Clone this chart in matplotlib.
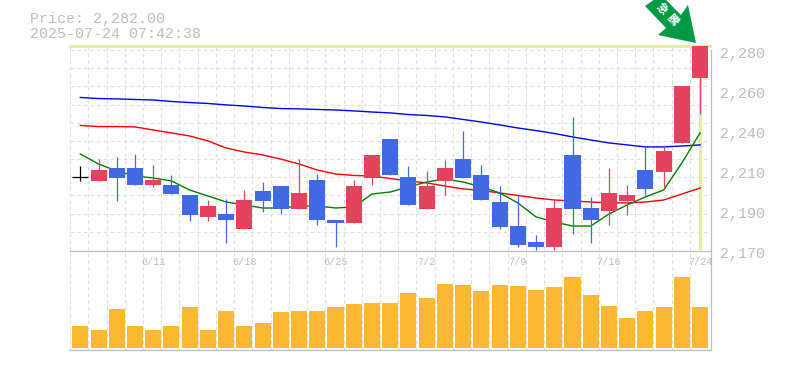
import matplotlib
matplotlib.use("Agg")
import matplotlib.pyplot as plt
from matplotlib.patches import Polygon

# ---- data ----
opens = [2210, 2208, 2215, 2215, 2206, 2206, 2200, 2188, 2190, 2181.5, 2202.5, 2205, 2192.5, 2208.5, 2186.5,
         2185, 2209.5, 2231, 2210, 2192.5, 2208, 2220, 2211, 2196.5, 2183, 2174.5, 2171.5, 2222, 2193,
         2191.5, 2197, 2214, 2213, 2229, 2264.5]
closes = [2210, 2214, 2209.6, 2206, 2208.5, 2201, 2189, 2194, 2186.5, 2197.5, 2197, 2192.5, 2201.5, 2186.5, 2185,
          2205, 2222, 2211, 2195, 2205, 2215, 2209.5, 2197.5, 2182.5, 2173, 2171.5, 2193, 2192.5, 2186.5,
          2201.5, 2200, 2203.5, 2224.5, 2260, 2282]
highs = [2216, 2220, 2221, 2223, 2217, 2211, 2200, 2197.5, 2198, 2203, 2207.5, 2205, 2220, 2212, 2186.5,
         2208.5, 2222, 2231, 2216, 2213.5, 2219.5, 2235.5, 2217, 2205, 2200, 2178, 2198, 2243, 2199,
         2215, 2206, 2226.5, 2227, 2260, 2282]
lows = [2208, 2208, 2197, 2206, 2204.6, 2201, 2186, 2186, 2174, 2181.5, 2191, 2190, 2192.5, 2184, 2171.5,
        2185, 2206, 2211, 2195, 2192.5, 2200, 2209.5, 2197.5, 2181.5, 2171.5, 2170, 2170, 2179, 2174,
        2184, 2189, 2200, 2204.5, 2229, 2245]
ma_long = [2253.9, 2253.3, 2253.1, 2252.8, 2252.5, 2251.7, 2251.1, 2250.6, 2249.8, 2249.2, 2248.4, 2247.8,
           2247.6, 2247.3, 2247, 2246.5, 2245.9, 2245.4, 2244.5, 2244, 2243.2, 2241.8, 2240.4, 2238.8, 2237.1,
           2235.7, 2234.1, 2232.2, 2230.5, 2228.9, 2227.8, 2226.7, 2226.7, 2227.2, 2227.8]
ma_mid = [2238.5, 2237.9, 2237.9, 2237.7, 2236, 2234.4, 2232.7, 2230, 2226.1, 2223.9, 2222.3, 2220, 2217.3,
          2214, 2211.8, 2211, 2210.7, 2209.3, 2208, 2206.9, 2205.2, 2203.6, 2202.7, 2201.4, 2200, 2198.6,
          2197.5, 2197, 2196.4, 2195.9, 2195.9, 2196.4, 2197.5, 2200.8, 2204.1]
ma_short = [2222.8, 2217.3, 2213.5, 2210.7, 2209.6, 2208, 2203, 2199.7, 2196.4, 2194.8, 2193.1, 2193.1, 2194.2,
            2194.2, 2193.1, 2193.7, 2200.8, 2201.9, 2204.7, 2207.4, 2209.1, 2207.4, 2204.7, 2201.4, 2195.9,
            2188.2, 2185.4, 2183.2, 2183.2, 2189.8, 2194.8, 2199.2, 2203, 2217.9, 2234.4]
volumes = [22, 18, 39, 22, 18, 22, 41, 18, 37, 22, 25, 36, 37, 37, 41, 44, 45, 45, 55, 50, 64, 63, 57, 63, 62,
           58, 61, 71, 53, 42, 30, 37, 41, 71, 41]
price_ticks = [2170, 2192, 2214, 2236, 2258, 2280]
price_tick_labels = ["2,170", "2,190", "2,210", "2,240", "2,260", "2,280"]
date_positions = [4, 9, 14, 19, 24, 29, 34]
date_labels = ["6/11", "6/18", "6/25", "7/2", "7/9", "7/16", "7/24"]
title_lines = ["Price: 2,282.00", "2025-07-24 07:42:38"]
badge_chars = ["急", "騰"]
last_price = 2282

# ---- style ----
W, H = 785, 370
UP, DOWN = "#e5425f", "#4169e1"
GRID, AXIS, TEXT = "#dddddd", "#bdbdbd", "#bdbdbd"
LIME = "#e0f0a0"
MONO = "Liberation Mono"
DASH = (0, (3, 3))

def rect(l, t, r, b):
    return [l / W, 1 - b / H, (r - l) / W, (b - t) / H]

fig = plt.figure(figsize=(W / 100, H / 100), dpi=100, facecolor="white")
ax = fig.add_axes(rect(70, 46, 710, 250))
vax = fig.add_axes(rect(70, 250, 710, 350), sharex=ax)

n = len(closes)
xs = list(range(n))
# pixel x = 80.3 + 18.23 i
ax.set_xlim((70 - 80.3) / 18.23, (710 - 80.3) / 18.23)
ax.set_ylim(2170, 2170 + 204 / (200 / 110))
vax.set_ylim(-2, 98)

for a in (ax, vax):
    a.set_facecolor("white")
    for s in a.spines.values():
        s.set_visible(False)
    a.tick_params(left=False, bottom=False, labelleft=False, labelbottom=False)
    for i in range(n):
        a.axvline(i - 0.56, color=GRID, lw=0.8, ls=DASH, zorder=0, clip_on=False)

ax.set_zorder(2)
ax.patch.set_visible(True)
for k in range(0, 12):
    ax.axhline(2170 + 10 * k, color=GRID, lw=0.8, ls=DASH, zorder=0)

# current-price crosshair
ax.axhline(last_price, color=LIME, lw=2.2, zorder=1, clip_on=False)
ax.axvline(n - 1, color=LIME, lw=2.2, zorder=1)

ax.plot(xs, ma_long, color="#0000ff", lw=1, zorder=2)
ax.plot(xs, ma_mid, color="#ff0000", lw=1, zorder=2)
ax.plot(xs, ma_short, color="#008000", lw=1, zorder=2)

for i in xs:
    o, c, h, l = opens[i], closes[i], highs[i], lows[i]
    if o == c:
        ax.plot([i, i], [l, h], color="black", lw=0.9, zorder=3, solid_capstyle="butt")
        ax.plot([i - 0.44, i + 0.44], [c, c], color="black", lw=0.9, zorder=3, solid_capstyle="butt")
        continue
    col = UP if c > o else DOWN
    ax.plot([i, i], [l, h], color=col, lw=0.9, zorder=3, solid_capstyle="butt", clip_on=False)
    ax.bar(i, abs(c - o), bottom=min(o, c), width=0.88, color=col, linewidth=0, zorder=4)

vax.bar(xs, volumes, width=0.88, color="#ffb833", linewidth=0, zorder=3)

# solid frame lines
fig.add_artist(plt.Line2D([70 / W, 710 / W], [1 - 250.5 / H] * 2, color=AXIS, lw=0.9))
fig.add_artist(plt.Line2D([70 / W, 710 / W], [1 - 349.5 / H] * 2, color=AXIS, lw=0.9))
fig.add_artist(plt.Line2D([710.5 / W, 710.5 / W], [1 - 50 / H, 1 - 350 / H], color=AXIS, lw=0.9))

# price labels
for p, lab in zip(price_ticks, price_tick_labels):
    ax.annotate(lab, xy=(1, p), xycoords=("axes fraction", "data"), xytext=(10, -4), textcoords="offset pixels",
                ha="left", va="center", family=MONO, fontsize=10.8, color=TEXT, annotation_clip=False)

# date labels
for i, lab in zip(date_positions, date_labels):
    vax.annotate(lab, xy=(i, 1), xycoords=("data", "axes fraction"), xytext=(0, -12), textcoords="offset pixels",
                 ha="center", va="center", family=MONO, fontsize=7.4, color=TEXT, annotation_clip=False, zorder=5)

for y, line in zip((19, 33.5), title_lines):
    fig.text(30 / W, 1 - y / H, line, family=MONO, fontsize=10.8, color=TEXT, ha="left", va="center")

# badge arrow (pixel coordinates)
pts = [(645, 6), (661, -5), (681, 15), (688, 5), (696, 43), (658, 35), (666, 28)]
fig.add_artist(Polygon([(x / W, 1 - y / H) for x, y in pts], closed=True, transform=fig.transFigure,
                       facecolor="#009944", edgecolor="none", zorder=6))
for (x, y), ch in zip([(662, 9), (673, 20)], badge_chars):
    fig.text(x / W, 1 - y / H, ch, family="Noto Sans CJK JP", fontsize=8, weight="bold", color="white",
             rotation=-45, rotation_mode="anchor", ha="center", va="center", zorder=7)

fig.savefig("out.png", dpi=100, facecolor="white")
